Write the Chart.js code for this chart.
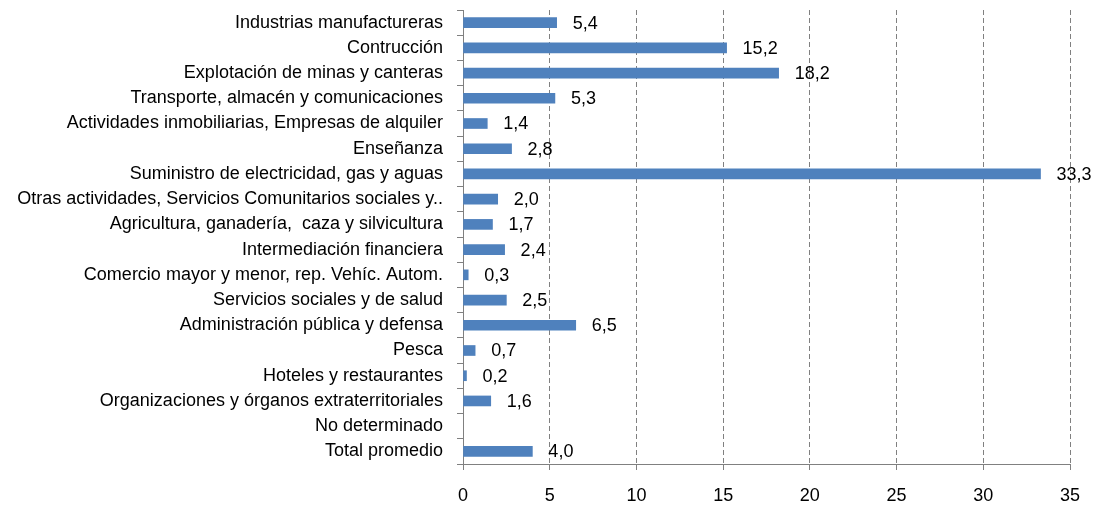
<!DOCTYPE html>
<html>
<head>
<meta charset="utf-8">
<script src="https://cdn.jsdelivr.net/npm/chart.js@4/dist/chart.umd.min.js"></script>
<style>
html,body{margin:0;padding:0;background:#fff;}
#c{display:block;}
</style>
</head>
<body>
<canvas id="c" width="1111" height="508"></canvas>
<script>
const categories = [
  "Industrias manufactureras",
  "Contrucción",
  "Explotación de minas y canteras",
  "Transporte, almacén y comunicaciones",
  "Actividades inmobiliarias, Empresas de alquiler",
  "Enseñanza",
  "Suministro de electricidad, gas y aguas",
  "Otras actividades, Servicios Comunitarios sociales y..",
  "Agricultura, ganadería,  caza y silvicultura",
  "Intermediación financiera",
  "Comercio mayor y menor, rep. Vehíc. Autom.",
  "Servicios sociales y de salud",
  "Administración pública y defensa",
  "Pesca",
  "Hoteles y restaurantes",
  "Organizaciones y órganos extraterritoriales",
  "No determinado",
  "Total promedio"
];
const values = [5.4, 15.2, 18.2, 5.3, 1.4, 2.8, 33.3, 2.0, 1.7, 2.4, 0.3, 2.5, 6.5, 0.7, 0.2, 1.6, null, 4.0];
const xTicks = [0, 5, 10, 15, 20, 25, 30, 35];

const FONT = "'Liberation Sans', Arial, sans-serif";
const GRID = "#808080";

const labelPlugin = {
  id: "barLabels",
  afterDatasetsDraw(chart) {
    const ctx = chart.ctx;
    const meta = chart.getDatasetMeta(0);
    const xs = chart.scales.x;
    ctx.save();
    ctx.font = "18px " + FONT;
    ctx.fillStyle = "#000";
    ctx.textAlign = "left";
    ctx.textBaseline = "middle";
    meta.data.forEach((bar, i) => {
      const v = values[i];
      if (v === null || v === undefined) return;
      const x = xs.getPixelForValue(v) + 16;
      ctx.fillText(v.toFixed(1).replace(".", ","), x, bar.y + 1);
    });
    ctx.restore();
  }
};

new Chart(document.getElementById("c"), {
  type: "bar",
  data: {
    labels: categories,
    datasets: [{
      data: values,
      backgroundColor: "#4F81BD",
      borderWidth: 0,
      barThickness: 10
    }]
  },
  options: {
    indexAxis: "y",
    responsive: false,
    animation: false,
    events: [],
    layout: { padding: { left: 0, right: 41, top: 10, bottom: 0 } },
    plugins: { legend: { display: false }, tooltip: { enabled: false } },
    scales: {
      x: {
        min: 0, max: 35,
        afterBuildTicks(scale) { scale.ticks = xTicks.map(v => ({ value: v })); },
        afterFit(scale) { scale.height = 44; scale.paddingLeft = 0; scale.paddingRight = 0; },
        grid: {
          color: GRID,
          lineWidth: 1,
          drawTicks: true,
          tickLength: 6,
          tickColor: GRID,
          tickBorderDash: []
        },
        border: { display: true, color: GRID, width: 1, dash: [5, 3] },
        ticks: {
          color: "#000",
          font: { family: FONT, size: 18 },
          padding: 15,
          maxRotation: 0,
          autoSkip: false
        }
      },
      y: {
        afterFit(scale) { scale.width = 463; scale.paddingTop = 0; scale.paddingBottom = 0; },
        grid: {
          display: true,
          drawOnChartArea: false,
          offset: true,
          drawTicks: true,
          tickLength: 6,
          tickColor: GRID,
          color: GRID
        },
        border: { display: true, color: GRID, width: 1 },
        ticks: {
          color: "#000",
          font: { family: FONT, size: 18 },
          padding: 14,
          autoSkip: false
        }
      }
    }
  },
  plugins: [labelPlugin]
});
</script>
</body>
</html>
